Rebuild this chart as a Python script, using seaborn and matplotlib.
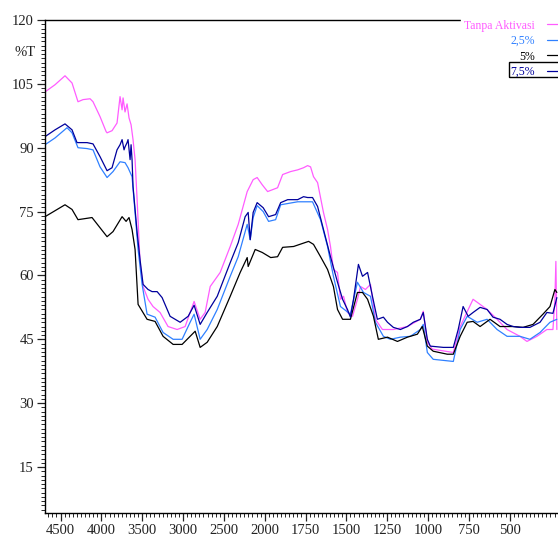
import numpy as np
import pandas as pd
import matplotlib
matplotlib.use("Agg")
import matplotlib.pyplot as plt
from matplotlib.patches import Rectangle
from matplotlib.ticker import FixedLocator, NullFormatter
import seaborn as sns

# FTIR spectra (wavenumber in cm-1, transmittance in %T)
wn_tanpa = [4690, 4567, 4445, 4359, 4286, 4224, 4138, 4102, 4016, 3942,
            3930, 3869, 3808, 3771, 3746, 3734, 3710, 3685, 3661, 3636,
            3612, 3587, 3562, 3526, 3489, 3428, 3367, 3281, 3183, 3072,
            2974, 2913, 2864, 2790, 2729, 2667, 2545, 2422, 2324, 2214,
            2141, 2092, 2030, 1982, 1921, 1890, 1841, 1798, 1762, 1737,
            1719, 1701, 1676, 1640, 1615, 1597, 1579, 1554, 1536, 1517,
            1493, 1462, 1432, 1413, 1383, 1352, 1322, 1279, 1212, 1126,
            1047, 1029, 1004, 974, 845, 803, 724, 638, 577, 516,
            437, 394, 333, 272, 235, 223, 217, 211]
t_tanpa = [103.1, 104.8, 106.9, 105.2, 100.8, 101.3, 101.5, 100.8, 97.3, 93.8,
           93.5, 94.0, 95.8, 102.0, 98.9, 101.7, 98.4, 100.3, 97.0, 95.4,
           91.9, 87.2, 77.8, 63.0, 57.4, 54.4, 52.7, 51.3, 48.0, 47.3,
           48.0, 51.3, 53.9, 49.7, 51.3, 57.4, 60.7, 66.8, 72.0, 79.7,
           82.5, 83.0, 81.3, 79.7, 80.6, 83.7, 84.4, 84.8, 85.3, 85.8,
           85.5, 83.2, 81.8, 74.8, 70.8, 66.8, 61.4, 60.7, 54.4, 55.1,
           51.3, 50.4, 54.4, 57.4, 56.7, 57.9, 49.7, 47.3, 47.3, 48.0,
           49.7, 51.6, 44.3, 42.7, 41.9, 48.0, 54.4, 52.0, 49.7, 47.3,
           45.7, 44.5, 45.7, 47.3, 47.3, 54.4, 63.3, 47.3]

wn_25 = [4690, 4567, 4420, 4359, 4286, 4175, 4102, 4016, 3930, 3857,
         3771, 3710, 3673, 3624, 3587, 3550, 3501, 3440, 3342, 3244,
         3121, 3011, 2913, 2864, 2790, 2704, 2581, 2422, 2324, 2214,
         2177, 2141, 2092, 2018, 1976, 1933, 1902, 1798, 1707, 1658,
         1615, 1579, 1536, 1475, 1432, 1395, 1352, 1322, 1273, 1230,
         1169, 1108, 1047, 1029, 1004, 968, 845, 803, 760, 699,
         638, 577, 516, 437, 376, 314, 253, 211]
t_25 = [90.7, 92.3, 94.7, 93.5, 90.0, 89.8, 89.5, 85.5, 83.0, 84.4,
        86.7, 86.5, 85.3, 83.2, 74.8, 66.1, 57.9, 50.9, 50.2, 46.6,
        45.0, 45.0, 49.0, 50.9, 45.0, 47.3, 52.0, 59.8, 64.4, 72.0,
        68.4, 73.6, 76.4, 75.0, 72.7, 73.1, 76.6, 77.3, 77.3, 73.1,
        66.8, 59.8, 52.7, 50.9, 58.4, 56.0, 55.1, 49.0, 45.7, 45.0,
        45.5, 45.7, 47.3, 48.5, 41.9, 40.3, 39.8, 47.3, 50.4, 49.0,
        49.7, 47.3, 45.7, 45.7, 45.0, 46.6, 49.0, 49.7]

wn_5 = [4690, 4445, 4359, 4286, 4114, 4016, 3930, 3857, 3746, 3697,
        3661, 3624, 3587, 3550, 3440, 3342, 3244, 3121, 3011, 2913,
        2851, 2790, 2704, 2581, 2422, 2300, 2214, 2202, 2116, 2030,
        1963, 1921, 1890, 1823, 1731, 1701, 1658, 1615, 1579, 1554,
        1523, 1475, 1432, 1401, 1370, 1334, 1304, 1248, 1187, 1126,
        1065, 1035, 1004, 968, 882, 845, 803, 760, 724, 681,
        620, 559, 479, 418, 357, 296, 253, 223, 211]
t_5 = [73.8, 76.6, 75.5, 73.1, 73.6, 71.2, 69.1, 70.3, 73.8, 72.7,
       73.6, 70.8, 66.1, 53.2, 49.7, 49.2, 45.7, 43.8, 43.8, 45.7,
       46.9, 43.1, 44.3, 48.0, 55.1, 60.7, 64.2, 62.1, 66.1, 65.4,
       64.2, 64.4, 66.6, 66.8, 68.0, 67.3, 64.4, 61.4, 57.4, 52.0,
       49.7, 49.7, 56.0, 56.0, 54.4, 50.4, 45.0, 45.5, 44.5, 45.5,
       46.2, 48.0, 43.4, 42.2, 41.5, 41.5, 45.7, 49.0, 49.2, 48.0,
       49.7, 48.0, 48.0, 47.8, 48.5, 50.9, 52.7, 56.7, 56.0]

wn_75 = [4690, 4567, 4445, 4359, 4298, 4175, 4102, 4016, 3930, 3869,
         3808, 3771, 3746, 3722, 3710, 3685, 3673, 3648, 3636, 3624,
         3612, 3562, 3526, 3489, 3428, 3379, 3317, 3256, 3158, 3035,
         2937, 2864, 2790, 2704, 2581, 2422, 2324, 2239, 2202, 2177,
         2141, 2092, 2018, 1976, 1933, 1902, 1859, 1798, 1762, 1737,
         1707, 1676, 1640, 1597, 1554, 1523, 1493, 1475, 1456, 1426,
         1401, 1370, 1340, 1310, 1273, 1248, 1212, 1169, 1126, 1090,
         1047, 1029, 1004, 986, 906, 845, 815, 785, 754, 724,
         681, 638, 602, 559, 516, 479, 437, 376, 314, 272,
         235, 211]
t_75 = [92.6, 94.2, 95.6, 94.2, 91.2, 91.2, 90.9, 87.9, 84.6, 85.3,
        89.5, 90.7, 91.9, 89.5, 90.2, 91.2, 91.9, 87.2, 90.7, 87.2,
        80.9, 70.1, 63.7, 57.9, 56.7, 56.2, 56.2, 54.8, 50.4, 49.0,
        50.4, 53.0, 48.5, 51.3, 55.1, 63.0, 67.7, 73.8, 74.8, 68.4,
        74.8, 77.1, 75.9, 73.8, 74.3, 77.1, 77.8, 77.8, 78.5, 78.3,
        78.3, 76.2, 70.8, 64.4, 58.4, 54.4, 52.0, 50.2, 54.4, 62.6,
        59.8, 60.7, 55.1, 49.7, 50.2, 49.0, 47.8, 47.3, 48.0, 49.0,
        49.7, 51.3, 45.0, 43.4, 43.1, 43.1, 47.3, 52.7, 50.4, 51.3,
        52.5, 52.0, 50.2, 49.7, 48.5, 48.0, 47.8, 47.8, 49.0, 51.3,
        51.1, 54.8]

labels = ["Tanpa Aktivasi", "2,5%", "5%", "7,5%"]
colors = ["#ff5cff", "#2f80ff", "#000000", "#00009c"]
xticks = [4500, 4000, 3500, 3000, 2500, 2000, 1750, 1500, 1250, 1000, 750, 500]
yticks = [15, 30, 45, 60, 75, 90, 105, 120]

sns.set_style("ticks")
plt.rcParams["font.family"] = ["Liberation Serif", "DejaVu Serif"]


# spectrometer style axis: the region below 2000 cm-1 is stretched 2x
def fwd(w):
    w = np.asarray(w, dtype=float)
    return np.where(w >= 2000, w, 2000 - (2000 - w) * 2)


def inv(u):
    u = np.asarray(u, dtype=float)
    return np.where(u >= 2000, u, 2000 - (2000 - u) / 2)


fig = plt.figure(figsize=(5.58, 5.38), dpi=100)
ax = fig.add_axes([45 / 558, 25 / 538, 1 - 45 / 558, 493 / 538])

series = [(wn_tanpa, t_tanpa), (wn_25, t_25), (wn_5, t_5), (wn_75, t_75)]
for (wn, t), lab, col in zip(series, labels, colors):
    df = pd.DataFrame({"wn": wn, "T": t})
    sns.lineplot(data=df, x="wn", y="T", sort=False, estimator=None,
                 color=col, lw=0.9, label=lab, ax=ax)

ax.set_xscale("function", functions=(fwd, inv))
ax.set_xlim(4690, 204)
ax.set_ylim(4.2, 120)

ax.xaxis.set_major_locator(FixedLocator(xticks))
ax.set_xticklabels([str(v) for v in xticks])
minor_x = list(range(2000, 4700, 50)) + list(range(200, 2000, 25))
ax.xaxis.set_minor_locator(FixedLocator(minor_x))
ax.xaxis.set_minor_formatter(NullFormatter())
ax.set_yticks(yticks)
ax.yaxis.set_minor_locator(FixedLocator(list(range(5, 121))))

ax.tick_params(which="major", length=6, width=0.9, direction="out",
               labelsize=10.5, colors="#222222", pad=2)
ax.tick_params(which="minor", length=3, width=0.7, direction="out")
ax.set_xlabel("")
ax.set_ylabel("")
ax.spines["right"].set_visible(False)
for s in ["left", "bottom", "top"]:
    ax.spines[s].set_linewidth(1.0)
    ax.spines[s].set_color("black")

fig.text(25.5 / 558, 1 - 52 / 538, "%T", ha="center", va="center",
         fontsize=10.5, color="#222222")

leg = ax.legend(loc="upper right", bbox_to_anchor=(1.012, 1 - 16 / 538),
                bbox_transform=fig.transFigure, markerfirst=False,
                frameon=True, facecolor="white", edgecolor="white",
                fancybox=False, framealpha=1, fontsize=8.5,
                labelcolor="linecolor", handlelength=1.2,
                handletextpad=1.0, labelspacing=0.3, borderpad=0.3,
                borderaxespad=0)
for txt in leg.get_texts():
    txt.set_ha("right")

fig.patches.append(Rectangle((509 / 558, 1 - 77 / 538), 0.1, 15 / 538,
                             transform=fig.transFigure, fill=False,
                             ec="black", lw=1.0, zorder=10))

fig.savefig("out.png", dpi=100)
